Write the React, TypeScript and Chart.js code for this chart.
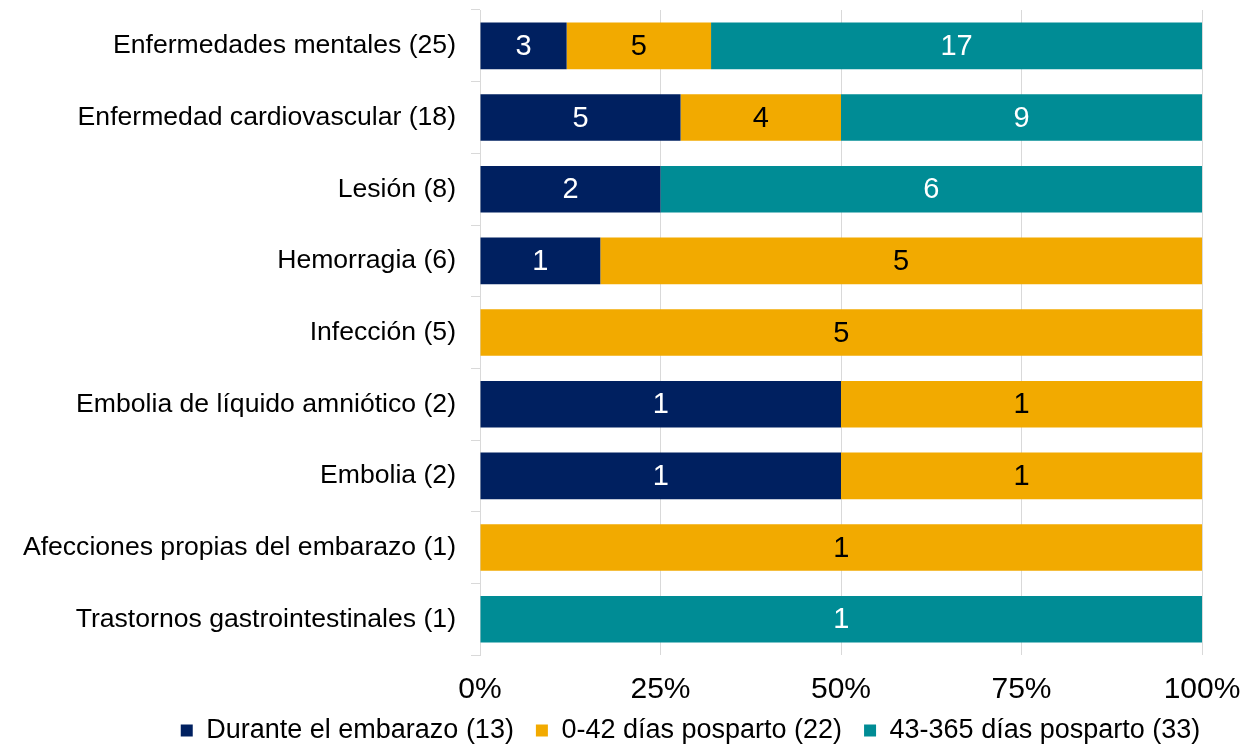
import React, { useEffect, useRef } from "react";
import { Chart, registerables } from "chart.js";

Chart.register(...registerables);

const categories = [
  "Enfermedades mentales (25)",
  "Enfermedad cardiovascular (18)",
  "Lesión (8)",
  "Hemorragia (6)",
  "Infección (5)",
  "Embolia de líquido amniótico (2)",
  "Embolia (2)",
  "Afecciones propias del embarazo (1)",
  "Trastornos gastrointestinales (1)",
];

const seriesNames = [
  "Durante el embarazo (13)",
  "0-42 días posparto (22)",
  "43-365 días posparto (33)",
];

const durante = [3, 5, 2, 1, 0, 1, 1, 0, 0];
const posparto042 = [5, 4, 0, 5, 5, 1, 1, 1, 0];
const posparto43365 = [17, 9, 6, 0, 0, 0, 0, 0, 1];

const xTicks = [0, 25, 50, 75, 100];

const colors = ["#002060", "#F2AA00", "#008C95"];
const labelColors = ["#ffffff", "#000000", "#ffffff"];

const FONT = "'Liberation Sans', Arial, sans-serif";

export default function App() {
  const ref = useRef<HTMLCanvasElement>(null);

  useEffect(() => {
    document.body.style.margin = "0";
    const counts = [durante, posparto042, posparto43365];
    const totals = categories.map((_, i) => counts.reduce((s, a) => s + a[i], 0));
    const datasets = counts.map((arr, k) => ({
      label: seriesNames[k],
      data: arr.map((v, i) => (v / totals[i]) * 100),
      counts: arr,
      backgroundColor: colors[k],
      borderWidth: 0,
      categoryPercentage: 1,
      barPercentage: 0.65,
    }));

    const dataLabels = {
      id: "dataLabels",
      afterDatasetsDraw(chart: any) {
        const ctx = chart.ctx;
        ctx.save();
        ctx.font = `29px ${FONT}`;
        ctx.textAlign = "center";
        ctx.textBaseline = "middle";
        chart.data.datasets.forEach((ds: any, k: number) => {
          const meta = chart.getDatasetMeta(k);
          meta.data.forEach((bar: any, i: number) => {
            const c = ds.counts[i];
            if (!c) return;
            const x = (bar.x + bar.base) / 2;
            ctx.fillStyle = labelColors[k];
            ctx.fillText(String(c), x, bar.y + 1);
          });
        });
        ctx.restore();
      },
    };

    const legendTweak = {
      id: "legendTweak",
      beforeLayout(chart: any) {
        const lg = chart.legend;
        if (lg && !lg.__patched) {
          const orig = lg.fit;
          lg.fit = function () {
            orig.call(this);
            this.height = 40;
          };
          lg.__patched = true;
        }
      },
      afterLayout(chart: any) {
        const lg = chart.legend;
        if (lg) {
          lg.left = 124;
          lg.right = 1257;
          lg.width = lg.right - lg.left;
          lg.top = 695;
        }
      },
    };

    const chart = new Chart(ref.current!, {
      type: "bar",
      data: { labels: categories, datasets: datasets as any },
      options: {
        indexAxis: "y",
        animation: false,
        responsive: false,
        maintainAspectRatio: false,
        layout: { padding: { left: 0, right: 55, top: 10, bottom: 0 } },
        scales: {
          x: {
            stacked: true,
            min: 0,
            max: 100,
            afterBuildTicks(axis: any) {
              axis.ticks = xTicks.map((v) => ({ value: v }));
            },
            afterFit(axis: any) {
              axis.height = 50;
              axis.paddingLeft = 0;
              axis.paddingRight = 0;
            },
            ticks: {
              callback: (v: any) => `${v}%`,
              font: { family: FONT, size: 30, lineHeight: 1 },
              color: "#000000",
              padding: 20,
            },
            grid: { color: "#d9d9d9", drawTicks: false, lineWidth: 1 },
            border: { display: false },
          },
          y: {
            stacked: true,
            afterFit(axis: any) {
              axis.width = 480;
              axis.paddingTop = 0;
              axis.paddingBottom = 0;
            },
            ticks: {
              font: { family: FONT, size: 26.6 },
              color: "#000000",
              padding: 15,
            },
            grid: {
              drawOnChartArea: false,
              color: "#d9d9d9",
              tickLength: 9,
              offset: true,
            },
            border: { display: true, color: "#d9d9d9" },
          },
        },
        plugins: {
          legend: {
            position: "bottom",
            labels: {
              font: { family: FONT, size: 27 },
              color: "#000000",
              boxWidth: 12,
              boxHeight: 12,
              padding: 22,
            },
          },
          tooltip: { enabled: false },
        },
      },
      plugins: [dataLabels, legendTweak],
    });
    return () => chart.destroy();
  }, []);

  return (
    <div style={{ position: "absolute", left: 0, top: 0, width: 1257, height: 745 }}>
      <canvas ref={ref} width={1257} height={745} />
    </div>
  );
}
